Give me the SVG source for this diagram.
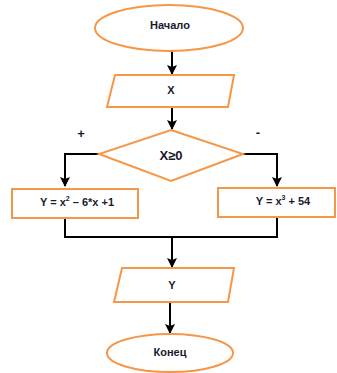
<svg xmlns="http://www.w3.org/2000/svg" width="337" height="373" viewBox="0 0 337 373">
<defs>
<marker id="ah" viewBox="0 0 10 10" refX="9" refY="5" markerWidth="5" markerHeight="5" orient="auto" markerUnits="strokeWidth">
<path d="M0,0 L10,5 L0,10 L2,5 Z" fill="#000"/>
</marker>
<style>
.shape{fill:#fff;stroke:#F79646;stroke-width:2}
.lbl{font-family:"Liberation Sans",Arial,sans-serif;font-weight:bold;font-size:11px;fill:#1a1a2e;text-anchor:middle;dominant-baseline:central}
.big{font-size:13px}
.c{fill:none;stroke:#000;stroke-width:2}
</style>
</defs>
<rect width="337" height="373" fill="#fff"/>
<g id="connectors">
<line class="c" x1="172" y1="51" x2="172" y2="74" marker-end="url(#ah)"/>
<line class="c" x1="172" y1="107" x2="172" y2="129" marker-end="url(#ah)"/>
<polyline class="c" points="99,154 65,154 65,186" marker-end="url(#ah)"/>
<polyline class="c" points="243,154 277,154 277,186" marker-end="url(#ah)"/>
<polyline class="c" points="65,218 65,237 277,237 277,217"/>
<line class="c" x1="172" y1="237" x2="172" y2="267" marker-end="url(#ah)"/>
<line class="c" x1="170" y1="302" x2="170" y2="333" marker-end="url(#ah)"/>
<text class="lbl big" x="81" y="133">+</text>
<text class="lbl big" x="258" y="132">-</text>
</g>
<g id="start">
<ellipse class="shape" cx="169" cy="28" rx="74" ry="23"/>
<text class="lbl" x="170" y="25">Начало</text>
</g>
<g id="inputX">
<polygon class="shape" points="115,75 234,75 228,107 107,107"/>
<text class="lbl" x="171" y="90">X</text>
</g>
<g id="decision">
<polygon class="shape" points="171,130 243,154 171,181 99,154"/>
<text class="lbl big" x="171" y="155">X≥0</text>
</g>
<g id="yes">
<rect class="shape" x="12" y="189" width="126" height="29"/>
<text class="lbl" x="77" y="202">Y = x<tspan font-size="7" dy="-4">2</tspan><tspan dy="4"> – 6*x +1</tspan></text>
</g>
<g id="no">
<rect class="shape" x="218" y="188" width="117" height="29"/>
<text class="lbl" x="283" y="201">Y = x<tspan font-size="7" dy="-4">3</tspan><tspan dy="4"> + 54</tspan></text>
</g>
<g id="outputY">
<polygon class="shape" points="122,268 234,268 228,302 114,302"/>
<text class="lbl" x="172" y="285">Y</text>
</g>
<g id="end">
<ellipse class="shape" cx="170" cy="353" rx="63" ry="19"/>
<text class="lbl" x="170" y="352">Конец</text>
</g>
</svg>
